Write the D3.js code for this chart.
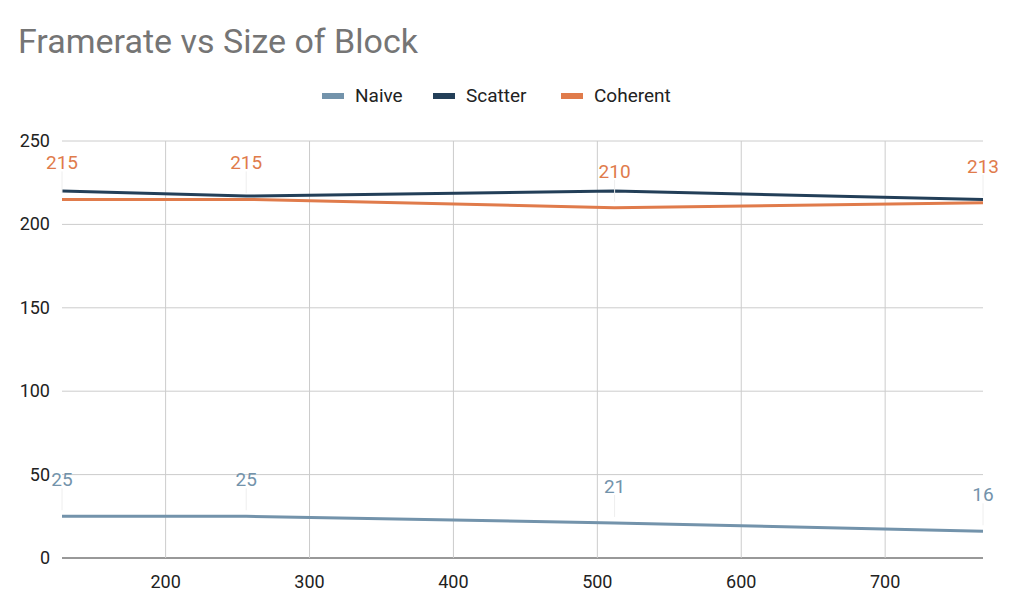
<!DOCTYPE html>
<html><head><meta charset="utf-8">
<script src="https://cdn.jsdelivr.net/npm/d3@7"></script>
<style>body{margin:0;background:#fff;font-family:Roboto,Arial,sans-serif}</style>
</head><body><svg id="c"></svg>
<script>
const sizes = [128, 256, 512, 768];
const naive = [25, 25, 21, 16];
const scatter = [220, 217, 220, 215];
const coherent = [215, 215, 210, 213];
const xTicks = [200, 300, 400, 500, 600, 700];
const yTicks = [0, 50, 100, 150, 200, 250];
const series = [
  {name: 'Naive', values: naive, color: '#7393ab', label: true},
  {name: 'Scatter', values: scatter, color: '#233f58', label: false},
  {name: 'Coherent', values: coherent, color: '#e07b4b', label: true}
];

const width = 1014, height = 606;
const svg = d3.select('#c').attr('width', width).attr('height', height);
const x = d3.scaleLinear().domain([128, 768]).range([62, 983]);
const y = d3.scaleLinear().domain([0, 250]).range([558, 141]);

svg.append('text').attr('x', 18).attr('y', 53).attr('font-size', 34)
  .attr('fill', '#757575').text('Framerate vs Size of Block');

// grid
svg.append('g').selectAll('line').data(yTicks).enter().append('line')
  .attr('x1', 62).attr('x2', 983).attr('y1', d => y(d)).attr('y2', d => y(d))
  .attr('stroke', d => d === 0 ? '#333' : '#ccc').attr('stroke-width', 1);
svg.append('g').selectAll('line').data(xTicks).enter().append('line')
  .attr('y1', 141).attr('y2', 558).attr('x1', d => x(d)).attr('x2', d => x(d))
  .attr('stroke', '#ccc');

svg.append('g').selectAll('text').data(yTicks).enter().append('text')
  .attr('x', 50).attr('y', d => y(d) + 6).attr('text-anchor', 'end')
  .attr('font-size', 18).attr('fill', '#222').text(d => d);
svg.append('g').selectAll('text').data(xTicks).enter().append('text')
  .attr('x', d => x(d)).attr('y', 588).attr('text-anchor', 'middle')
  .attr('font-size', 18).attr('fill', '#222').text(d => d);

const line = d3.line().x((d, i) => x(sizes[i])).y(d => y(d));
series.forEach(s => {
  svg.append('path').datum(s.values).attr('d', line)
    .attr('fill', 'none').attr('stroke', s.color).attr('stroke-width', 3);
});
series.filter(s => s.label).forEach(s => {
  const g = svg.append('g');
  g.selectAll('line').data(s.values).enter().append('line')
    .attr('x1', (d, i) => x(sizes[i])).attr('x2', (d, i) => x(sizes[i]))
    .attr('y1', d => y(d) - 6).attr('y2', d => y(d) - 28)
    .attr('stroke', '#eee');
  g.selectAll('text').data(s.values).enter().append('text')
    .attr('x', (d, i) => x(sizes[i])).attr('y', d => y(d) - 30)
    .attr('text-anchor', 'middle').attr('font-size', 19).attr('fill', s.color)
    .text(d => d);
});

// legend
const leg = svg.append('g');
const lx = [322, 433, 561];
series.forEach((s, i) => {
  leg.append('rect').attr('x', lx[i]).attr('y', 93).attr('width', 22).attr('height', 6)
    .attr('fill', s.color);
  leg.append('text').attr('x', lx[i] + 33).attr('y', 102).attr('font-size', 19)
    .attr('fill', '#222').text(s.name);
});
</script></body></html>
